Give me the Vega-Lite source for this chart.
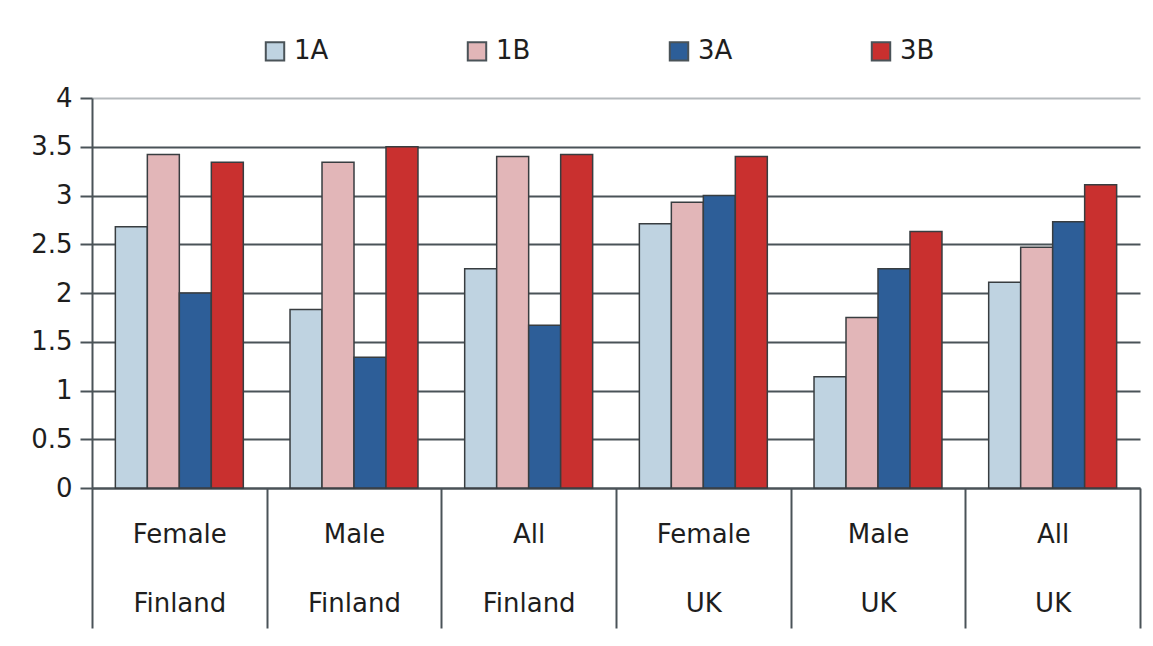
{
  "$schema": "https://vega.github.io/schema/vega-lite/v6.json",
  "width": 1048,
  "height": 390,
  "autosize": {"type": "none"},
  "padding": {"left": 92, "top": 98, "right": 13, "bottom": 158},
  "background": "white",
  "data": {
    "values": [
      {"group": "Female|Finland", "series": "1A", "value": 2.68},
      {"group": "Female|Finland", "series": "1B", "value": 3.42},
      {"group": "Female|Finland", "series": "3A", "value": 2.0},
      {"group": "Female|Finland", "series": "3B", "value": 3.34},
      {"group": "Male|Finland", "series": "1A", "value": 1.83},
      {"group": "Male|Finland", "series": "1B", "value": 3.34},
      {"group": "Male|Finland", "series": "3A", "value": 1.34},
      {"group": "Male|Finland", "series": "3B", "value": 3.5},
      {"group": "All|Finland", "series": "1A", "value": 2.25},
      {"group": "All|Finland", "series": "1B", "value": 3.4},
      {"group": "All|Finland", "series": "3A", "value": 1.67},
      {"group": "All|Finland", "series": "3B", "value": 3.42},
      {"group": "Female|UK", "series": "1A", "value": 2.71},
      {"group": "Female|UK", "series": "1B", "value": 2.93},
      {"group": "Female|UK", "series": "3A", "value": 3.0},
      {"group": "Female|UK", "series": "3B", "value": 3.4},
      {"group": "Male|UK", "series": "1A", "value": 1.14},
      {"group": "Male|UK", "series": "1B", "value": 1.75},
      {"group": "Male|UK", "series": "3A", "value": 2.25},
      {"group": "Male|UK", "series": "3B", "value": 2.63},
      {"group": "All|UK", "series": "1A", "value": 2.11},
      {"group": "All|UK", "series": "1B", "value": 2.47},
      {"group": "All|UK", "series": "3A", "value": 2.73},
      {"group": "All|UK", "series": "3B", "value": 3.11}
    ]
  },
  "mark": {"type": "bar", "stroke": "#383d40", "strokeWidth": 1.5},
  "encoding": {
    "x": {
      "field": "group",
      "type": "nominal",
      "sort": null,
      "title": null,
      "scale": {"paddingInner": 0, "paddingOuter": 0},
      "axis": {
        "tickBand": "extent",
        "tickSize": 140,
        "tickWidth": 2,
        "tickColor": "#4a5358",
        "domainColor": "#4a5358",
        "domainWidth": 2,
        "labelExpr": "split(datum.label, '|')",
        "labelLineHeight": 69,
        "labelPadding": -107,
        "labelFontSize": 26,
        "labelColor": "#1e1e1e",
        "labelAngle": 0,
        "grid": false
      }
    },
    "xOffset": {
      "field": "series",
      "type": "nominal",
      "sort": ["1A", "1B", "3A", "3B"],
      "scale": {"paddingInner": 0, "paddingOuter": 0.73}
    },
    "y": {
      "field": "value",
      "type": "quantitative",
      "title": null,
      "scale": {"domain": [0, 4]},
      "axis": {
        "values": [0, 0.5, 1, 1.5, 2, 2.5, 3, 3.5, 4],
        "format": "~g",
        "tickSize": 12,
        "tickWidth": 2,
        "tickColor": "#4a5358",
        "domainColor": "#4a5358",
        "domainWidth": 2,
        "labelFontSize": 26,
        "labelPadding": 8,
        "labelColor": "#1e1e1e",
        "grid": true,
        "gridColor": {"condition": {"test": "datum.value === 4", "value": "#b5babd"}, "value": "#4a5358"},
        "gridWidth": 2
      }
    },
    "color": {
      "field": "series",
      "type": "nominal",
      "scale": {"domain": ["1A", "1B", "3A", "3B"], "range": ["#bfd3e1", "#e2b6b8", "#2d5e98", "#c9302f"]},
      "legend": {
        "orient": "none",
        "legendX": 170,
        "legendY": -60,
        "direction": "horizontal",
        "title": null,
        "symbolType": "square",
        "symbolSize": 340,
        "symbolStrokeColor": "#4a5358",
        "symbolStrokeWidth": 2,
        "labelFontSize": 26,
        "labelColor": "#1e1e1e",
        "labelOffset": 6,
        "columnPadding": 134,
        "padding": 0
      }
    }
  },
  "config": {"view": {"stroke": null}, "font": "DejaVu Sans"}
}
